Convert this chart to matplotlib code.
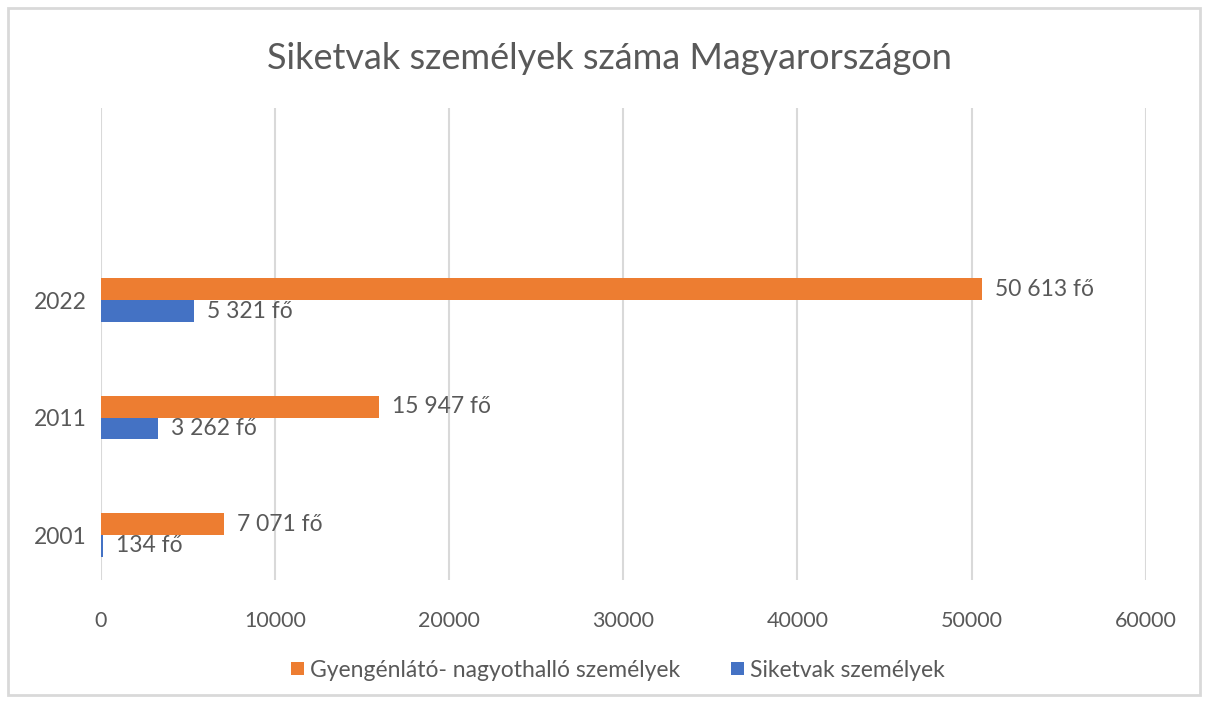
import numpy as np
import matplotlib.pyplot as plt
from matplotlib.patches import Rectangle

years = ["2001", "2011", "2022"]
gyengenlato = [7071, 15947, 50613]
siketvak = [134, 3262, 5321]
series_names = ["Gyengénlátó- nagyothalló személyek", "Siketvak személyek"]
title = "Siketvak személyek száma Magyarországon"
x_ticks = [0, 10000, 20000, 30000, 40000, 50000, 60000]

orange = "#ED7D31"
blue = "#4472C4"
grey_text = "#595959"
grid_col = "#D9D9D9"

plt.rcParams["font.family"] = ["Lato", "DejaVu Sans"]


def fmt(v):
    return "{:,}".format(v).replace(",", " ") + " fő"


fig = plt.figure(figsize=(12.06, 7.02), dpi=100)
ax = fig.add_axes([0.0837, 0.1738, 0.8663, 0.6722])

y = np.arange(len(years))
h = 0.187
b1 = ax.barh(y + h / 2, gyengenlato, height=h, color=orange, label=series_names[0], zorder=3)
b2 = ax.barh(y - h / 2, siketvak, height=h, color=blue, label=series_names[1], zorder=3)

for bars, vals in [(b1, gyengenlato), (b2, siketvak)]:
    for rect, v in zip(bars, vals):
        ax.annotate(fmt(v), (rect.get_width(), rect.get_y() + rect.get_height() / 2),
                    xytext=(13, 0), textcoords="offset pixels", va="center", ha="left",
                    fontsize=16.5, color=grey_text)

ax.set_xlim(0, 60000)
ax.set_ylim(-0.383, 3.634)
ax.set_xticks(x_ticks)
ax.set_xticklabels([str(t) for t in x_ticks])
ax.set_yticks(y)
ax.set_yticklabels(years)
ax.tick_params(axis="x", length=0, labelsize=15.5, colors=grey_text, pad=22)
ax.tick_params(axis="y", length=0, labelsize=16.5, colors=grey_text, pad=10)
ax.grid(axis="x", color=grid_col, linewidth=1.5, zorder=0)
for s in ax.spines.values():
    s.set_visible(False)

fig.suptitle(title, x=0.505, y=0.94, fontsize=26, color=grey_text)

ax.legend(loc="upper center", bbox_to_anchor=(0.495, -0.125), ncol=2, frameon=False,
          fontsize=16.5, labelcolor=grey_text, handlelength=0.55, handleheight=0.55,
          handletextpad=0.3, columnspacing=2.2)

fig.patches.append(Rectangle((0.007, 0.01), 0.988, 0.978, transform=fig.transFigure,
                             fill=False, edgecolor=grid_col, linewidth=2))

fig.savefig("out.png", dpi=100)
